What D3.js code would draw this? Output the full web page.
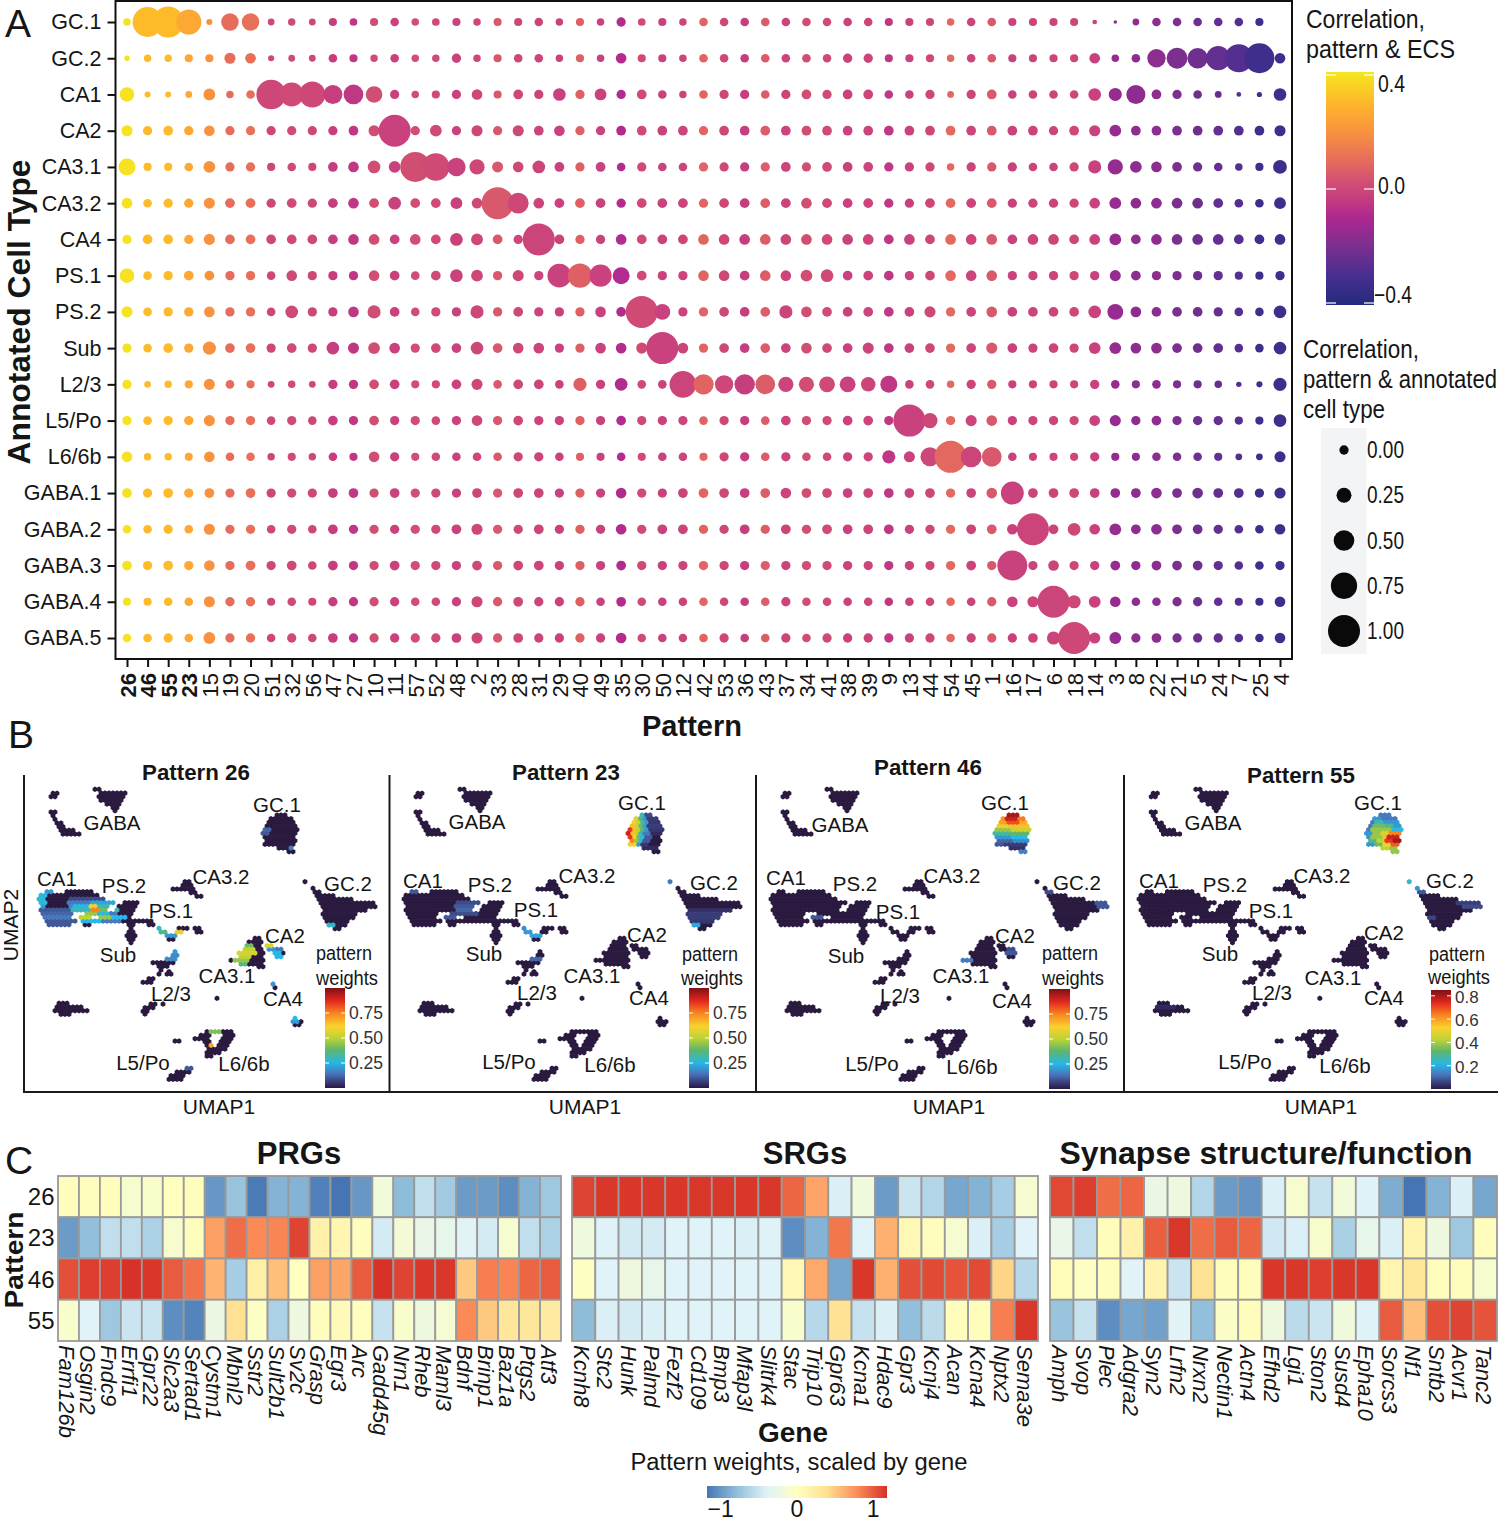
<!DOCTYPE html>
<html><head><meta charset="utf-8">
<script src="https://cdnjs.cloudflare.com/ajax/libs/d3/7.8.5/d3.min.js"></script>
<style>body{margin:0;background:#fff}svg{display:block}text{font-family:"Liberation Sans",Arial,sans-serif;fill:#151515}</style>
</head><body><svg id="c" width="1500" height="1521"></svg>
<script>
// ---------- Panel A data ----------
const cellTypes=["GC.1","GC.2","CA1","CA2","CA3.1","CA3.2","CA4","PS.1","PS.2","Sub","L2/3","L5/Po","L6/6b","GABA.1","GABA.2","GABA.3","GABA.4","GABA.5"];
const patterns=[26,46,55,23,15,19,20,51,32,56,47,27,10,11,57,52,48,2,33,28,31,29,40,49,35,30,50,12,42,53,36,43,37,34,41,38,39,9,13,44,54,45,1,16,17,6,18,14,3,8,22,21,5,24,7,25,4];
const boldPatterns=[26,46,55,23];
const ecsCorr=[.40,.31,.31,.26,.20,.10,.11,.0,.01,.0,-.03,-.05,.02,-.02,.02,.01,-.02,.0,.05,.0,-.01,-.02,.07,-.02,-.09,.01,-.02,-.01,.08,.0,-.03,.06,-.01,.02,.01,-.02,-.01,-.05,-.02,.0,.09,-.01,.05,-.02,-.01,-.01,.0,-.02,-.15,-.17,-.17,-.2,-.23,-.25,-.28,-.33,-.33];
const corrGC1=[-8,91,96,70,-14,36,36,-11,-8,-11,-5,-7,-5,-3,-8,-7,-5,-8,-5,-5,-3,-8,-5,-8,0,-7,-5,-8,-3,-3,-3,-3,-3,-3,-3,-3,-3,-5,-5,-5,-8,-3,-3,-5,-5,-5,-5,-20,-25,-11,-3,-3,-3,-3,-3,-5,null];
const corrGC2=[-17,-8,-8,-5,-5,8,6,-14,-11,-11,-3,-5,-8,-3,-8,-8,0,-8,-5,-3,-3,-8,-5,-8,6,-5,-5,-8,-3,-3,-3,-3,-3,-3,-3,0,0,-5,-5,-5,-8,-3,-3,-5,-5,-5,-5,6,-8,-3,40,51,49,66,83,91,6];
const corrCA1=[23,-14,-14,-11,11,-8,-3,89,64,74,43,46,32,0,-8,-5,0,6,-5,2,0,15,0,11,0,2,-3,-8,-3,0,0,-3,0,2,0,2,2,-3,-3,0,-11,0,2,-3,-3,-3,-3,15,17,43,2,0,-3,-11,-20,-18,15];
const corrCA2=[8,0,2,0,6,0,0,0,0,0,0,2,8,100,0,11,0,8,0,8,2,6,0,0,2,2,2,2,0,2,2,2,2,2,2,2,2,2,2,2,2,2,2,2,2,0,2,8,11,2,2,2,2,2,2,2,8];
const corrCA31=[34,-5,-5,-3,11,0,0,-5,-3,-5,2,6,15,11,91,80,40,26,8,6,15,2,0,2,-3,0,-3,-3,0,0,0,0,2,0,2,2,2,0,0,0,-8,0,0,0,-3,-3,0,17,26,11,6,2,0,-3,-8,-5,20];
const corrCA32=[6,-3,0,0,8,2,2,0,2,0,2,6,2,15,2,2,11,6,100,51,6,2,2,2,0,2,2,2,0,2,2,2,2,6,2,2,2,0,0,2,2,2,2,0,0,0,0,6,11,6,6,6,6,2,-3,-3,11];
const corrCA4=[0,2,2,0,8,2,2,2,2,2,2,6,6,2,6,2,15,11,2,0,100,2,0,0,6,2,2,2,6,6,6,6,6,6,6,6,6,2,6,2,6,6,6,2,6,6,2,6,11,2,6,6,6,6,2,2,6];
const corrPS1=[23,-3,0,2,2,0,0,-3,6,0,0,0,6,2,-3,2,15,11,0,8,0,64,66,57,34,2,0,0,6,6,2,6,6,11,15,2,2,2,0,2,6,6,6,0,0,0,0,0,8,2,0,0,0,0,-5,-5,0];
const corrPS2=[8,-3,0,0,6,0,0,-3,15,0,0,6,17,2,-3,0,0,17,0,2,0,0,0,6,2,100,29,0,0,2,2,2,17,6,2,2,2,2,2,8,0,2,6,2,2,2,2,15,29,6,2,2,2,0,-3,-3,15];
const corrSub=[0,-3,2,0,17,2,2,0,2,0,15,8,11,6,0,2,2,15,2,6,6,0,0,6,6,8,100,6,0,2,2,2,2,6,2,2,8,2,2,2,0,2,8,2,0,2,0,11,11,6,6,2,2,2,-3,-3,15];
const corrL23=[0,-11,-8,-5,8,-3,-5,-11,-8,-11,0,0,2,2,-5,-5,2,8,-3,2,2,-3,17,0,15,-3,-3,77,49,40,49,46,26,26,29,29,23,34,-3,-3,-8,0,0,-5,-5,-5,-5,0,-3,-5,-3,-5,-5,-8,-17,-14,17];
const corrL5=[0,-3,0,0,8,0,0,-3,0,-3,2,0,2,0,0,-3,0,6,0,2,0,0,0,0,2,0,0,0,-3,0,0,-3,2,0,0,2,2,0,100,26,0,8,6,0,0,0,0,6,8,0,2,0,0,0,-5,-5,15];
const corrL6=[6,-8,-8,-5,6,-3,-3,-8,-5,-8,-3,-5,6,0,-5,-3,-3,-3,-3,0,0,-3,-5,-5,-3,-5,-3,-3,-5,0,0,-3,0,-3,-3,0,0,17,8,43,100,51,46,-3,-5,-5,-5,0,-5,-5,-3,-3,-3,-5,-11,-11,8];
const corrGABA1=[2,0,2,0,2,0,2,0,0,0,2,2,0,2,0,0,0,2,0,2,2,0,0,0,6,0,0,2,2,2,2,2,6,2,2,2,2,2,2,2,0,2,6,60,2,2,2,2,2,2,6,2,6,2,2,0,8];
const corrGABA2=[-3,-3,0,-3,8,0,0,-3,0,-3,2,0,0,0,0,0,2,8,0,0,2,0,0,0,6,0,2,2,0,0,2,0,2,0,2,2,2,2,0,0,0,2,2,6,100,2,15,6,11,2,6,2,2,0,-3,-3,6];
const corrGABA3=[2,0,2,0,6,0,2,0,2,-3,2,0,0,2,0,0,0,2,0,2,2,0,0,0,2,0,0,0,0,0,0,0,0,0,0,0,0,0,0,0,0,2,0,91,0,6,0,0,2,0,2,2,2,0,-3,-3,0];
const corrGABA4=[-5,-5,-3,-3,8,0,0,-5,-3,-5,0,0,0,0,-3,-3,0,8,0,2,0,0,0,-3,2,-3,-3,-3,-3,-3,-3,-3,0,-3,-3,-3,-3,-3,-3,-3,-3,-3,0,6,8,100,17,11,6,-3,-3,0,0,-3,-5,-5,6];
const corrGABA5=[-3,-3,0,-3,11,0,0,-3,0,-3,2,0,0,0,0,0,2,8,0,2,0,0,0,0,6,-3,-3,-3,-3,0,-3,-3,0,-3,0,0,0,0,0,0,-3,0,0,0,2,17,100,8,11,0,2,0,0,0,-3,-3,6];
const corrByType=[corrGC1,corrGC2,corrCA1,corrCA2,corrCA31,corrCA32,corrCA4,corrPS1,corrPS2,corrSub,corrL23,corrL5,corrL6,corrGABA1,corrGABA2,corrGABA3,corrGABA4,corrGABA5];
const sizeLegend=[0,.25,.5,.75,1];
const ecsTicks=[.4,0,-.4];

// ---------- Panel B data: occupied hexbin rows [umap2, umap1 from, umap1 to] ----------
const umapRows=[
[118,213,223],[129,220,300],[140,223,297],[151,230,293],[162,243,287],[173,260,283],[182,267,277],
[130,83,100],[140,77,95],[186,77,87],[197,77,90],[208,85,97],[219,93,107],[230,97,115],[241,100,147],[252,115,163],
[195,750,785],[206,740,795],[217,733,805],[228,725,811],[239,720,813],[250,717,810],[261,717,805],[272,725,813],[283,722,730],[283,740,810],[294,760,805],[305,787,803],
[395,836,844],[415,860,870],[426,867,885],[437,873,925],[448,880,985],[459,885,1043],[470,890,1050],[481,893,1020],[492,897,995],[503,900,985],[514,905,973],[525,910,963],[536,923,945],
[425,60,75],[425,120,135],[425,150,195],[436,50,222],[447,45,235],[458,45,118],[458,130,190],[458,200,265],[458,295,338],[469,48,185],[469,195,250],[469,280,330],[480,50,135],[480,145,195],[480,205,240],[480,270,325],[491,52,135],[491,180,255],[491,260,320],[502,55,130],[502,165,190],[502,225,315],[513,60,150],[513,175,385],[524,68,130],[524,180,190],[524,312,325],[524,370,385],
[535,312,325],[535,398,410],[535,455,490],[535,505,525],[546,312,330],[546,410,425],[546,455,465],[546,512,525],[557,308,330],[557,425,450],[568,308,330],[568,435,450],[578,310,325],
[395,480,495],[406,470,500],[417,445,505],[428,490,518],[439,510,525],
[605,448,458],[616,440,455],[627,425,450],[638,385,445],[649,395,425],[660,400,412],[665,425,440],[672,405,410],[672,425,442],[686,370,392],[697,355,380],[745,575,582],[762,370,395],[762,408,415],[773,358,385],[784,355,372],[792,355,362],
[565,682,700],[576,672,708],[587,665,710],[587,725,745],[598,655,715],[598,735,775],[609,645,715],[609,745,772],[620,640,715],[620,750,765],[631,620,715],[642,650,715],[650,705,715],
[702,742,750],[713,748,757],[805,802,810],[815,803,835],[824,808,828],
[760,98,130],[771,90,145],[771,155,170],[782,92,142],[782,150,188],[793,110,135],
[845,545,615],[856,530,560],[856,595,622],[866,503,550],[866,595,618],[875,535,555],[875,590,615],[886,545,565],[886,580,605],[897,545,600],[908,540,580],[918,540,560],[873,450,468],
[955,480,502],[966,455,490],[977,435,478],[988,430,465]];
// weighted hexbin rows per pattern [umap2, from, to, weight]; all other bins are near zero
const weights26=[[425,60,75,.2],[436,50,62,.25],[447,45,60,.28],[458,45,60,.25],[469,48,60,.2],[480,50,135,.1],[491,52,135,.12],[502,55,130,.15],[513,60,150,.1],[524,68,130,.1],[447,130,235,.08],[458,130,190,.15],[458,200,265,.22],[469,130,150,.18],[469,150,185,.25],[469,195,215,.6],[469,215,250,.3],[480,145,195,.3],[480,205,225,.75],[480,225,240,.4],[480,270,280,.3],[491,180,215,.45],[491,215,255,.25],[491,260,270,.15],[502,165,190,.5],[502,225,260,.45],[502,260,300,.25],[513,175,230,.25],[513,230,285,.15],[535,398,410,.28],[546,410,425,.35],[546,455,465,.58],[557,425,450,.2],[587,665,680,.4],[598,655,690,.5],[609,645,690,.55],[620,640,680,.5],[631,630,670,.45],[642,650,665,.35],[587,725,745,.55],[598,735,750,.2],[598,750,775,.15],[609,745,760,.25],[620,750,765,.25],[702,742,750,.2],[805,802,810,.25],[815,803,815,.2],[605,448,458,.2],[616,440,455,.18],[627,425,450,.18],[845,555,590,.42],[886,550,560,.7],[239,720,732,.12],[250,717,730,.1],[294,795,805,.15],[525,910,922,.28],[955,480,502,.1]];
const weights23=[[195,750,760,.3],[195,760,785,.08],[206,740,750,.55],[206,750,762,.35],[206,762,775,.2],[206,775,795,.06],[217,733,742,.6],[217,742,752,.5],[217,752,765,.35],[217,765,780,.2],[217,780,805,.05],[228,725,735,.65],[228,735,745,.55],[228,745,760,.4],[228,760,775,.22],[228,775,811,.06],[239,720,728,.85],[239,728,740,.65],[239,740,752,.5],[239,752,768,.35],[239,768,780,.2],[239,780,813,.05],[250,717,726,.9],[250,726,738,.65],[250,738,750,.5],[250,750,765,.3],[250,765,780,.15],[250,780,810,.03],[261,717,726,.85],[261,726,736,.62],[261,736,750,.4],[261,750,765,.25],[261,765,780,.1],[272,725,733,.75],[272,733,745,.45],[272,745,758,.28],[272,758,775,.1],[283,722,730,.62],[283,740,755,.2],[283,755,775,.05],[294,760,805,.03],[395,836,844,.15],[458,200,265,.08],[469,195,250,.1],[480,205,240,.12],[491,180,255,.08],[502,165,190,.1],[425,60,75,.1],[535,398,410,.18],[546,410,425,.2],[557,425,450,.22],[627,425,450,.12],[481,893,1020,.04],[492,897,995,.06],[503,900,985,.06],[514,905,973,.05],[525,910,925,.22]];
const weights46=[[195,750,785,.95],[206,740,752,.72],[206,752,785,.9],[206,785,795,.76],[217,733,750,.7],[217,750,790,.82],[217,790,805,.68],[228,725,755,.58],[228,755,811,.65],[239,720,760,.45],[239,760,813,.52],[250,717,760,.32],[250,760,810,.38],[261,717,760,.2],[261,760,805,.25],[272,725,770,.12],[272,770,813,.18],[283,722,730,.1],[283,740,810,.06],[294,760,805,.04],[305,787,803,.16],[502,165,190,.1],[426,867,885,.08],[459,1020,1043,.1],[470,1020,1050,.1],[598,750,775,.08],[609,745,772,.1],[631,620,640,.15]];
const weights55=[[195,750,785,.15],[206,740,760,.2],[206,760,795,.15],[217,733,745,.15],[217,745,770,.3],[217,770,805,.2],[228,725,740,.15],[228,740,770,.4],[228,770,795,.35],[228,795,811,.2],[239,720,735,.15],[239,735,765,.45],[239,765,790,.45],[239,790,813,.25],[250,717,732,.2],[250,732,760,.45],[250,760,785,.55],[250,785,810,.75],[261,717,730,.2],[261,730,760,.45],[261,760,780,.65],[261,780,805,.9],[272,725,745,.35],[272,745,770,.5],[272,770,790,.85],[272,790,813,.95],[283,722,730,.2],[283,740,765,.4],[283,765,790,.6],[283,790,810,.8],[294,760,785,.5],[294,785,805,.45],[305,787,803,.45],[395,836,844,.28],[415,860,870,.2],[426,867,885,.1],[459,985,1043,.06],[470,1000,1050,.08],[503,900,920,.07],[771,90,145,.03]];
const weightRows={26:weights26,23:weights23,46:weights46,55:weights55};
const panelPatterns=[26,23,46,55];
const weightTicks=[.25,.5,.75];
const weightTicks55=[.2,.4,.6,.8];
const umapLabelNames=["GABA","GC.1","CA1","PS.2","CA3.2","GC.2","PS.1","CA2","Sub","CA3.1","L2/3","CA4","L5/Po","L6/6b"];

// ---------- Panel C data ----------
const prgGenes=["Fam126b","Osgin2","Fndc9","Errfi1","Gpr22","Slc2a3","Sertad1","Cystm1","Mbnl2","Sstr2","Sult2b1","Sv2c","Grasp","Egr3","Arc","Gadd45g","Nrn1","Rheb","Maml3","Bdnf","Brinp1","Baz1a","Ptgs2","Atf3"];
const prg26=[.03,.02,.02,-.1,-.07,0,.02,-1,-.75,-1.15,-.85,-.85,-1.12,-1.18,-1,-.18,-.8,-.55,-.7,-.98,-.98,-1.05,-.85,-.72];
const prg23=[-.98,-.78,-.55,-.55,-.65,-.1,.02,.7,.92,.8,.82,1.1,.18,.12,.02,-.45,-.15,-.28,-.3,-.38,-.45,-.12,-.55,-.65];
const prg46=[1.05,1.12,1.12,1.17,1.15,1,.9,.6,-.68,.2,.55,0,.7,.68,1,1.17,1.1,1.15,1.15,.5,.85,.82,.95,1];
const prg55=[-.08,-.38,-.72,-.5,-.5,-1.05,-1.1,-.25,.38,-.03,-.65,-.22,.02,.06,.01,-.52,-.08,-.22,-.13,.8,.5,.3,.3,.25];
const srgGenes=["Kcnh8","Stc2","Hunk","Palmd","Fezf2","Cd109","Bmp3","Mfap3l","Slitrk4","Stac","Trip10","Gpr63","Kcna1","Hdac9","Gpr3","Kcnj4","Acan","Kcna4","Nptx2","Sema3e"];
const srg26=[1.1,1.15,1.15,1.15,1.15,1.15,1.15,1.15,1.15,.95,.68,-.42,-.2,-.98,-.5,-.62,-.92,-.85,-.68,-.12];
const srg23=[-.2,-.4,-.46,-.45,-.39,-.39,-.39,-.42,-.4,-1.05,-.85,.88,-.39,.62,.08,.02,-.12,-.42,-.68,-.39];
const srg46=[-.02,-.39,-.22,-.3,-.39,-.39,-.39,-.39,-.39,.08,.65,-.92,1.15,.62,1.05,1.07,1.03,1.07,.45,-.6];
const srg55=[-.8,-.42,-.45,-.42,-.39,-.39,-.39,-.39,-.39,-.08,-.6,.35,-.52,-.42,-.78,-.58,.03,.03,.85,1.15];
const synGenes=["Amph","Svop","Plec","Adgra2","Syn2","Lrfn2","Nrxn2","Nectin1","Actn4","Efhd2","Lgi1","Ston2","Susd4","Epha10","Sorcs3","Nf1","Sntb2","Acvr1","Tanc2"];
const syn26=[1.08,1.12,.92,.95,-.26,-.22,-.62,-.98,-1.02,-.42,-.1,-.52,-.18,-.4,-.88,-1.18,-.85,-.42,-.92];
const syn23=[-.28,-.55,.03,.18,.98,1.15,.92,1,.95,-.48,-.42,-.08,-.66,-.3,-.42,.14,-.22,-.72,.02];
const syn46=[.05,-.03,.02,-.38,.14,-.5,.36,.03,.03,1.15,1.15,1.12,1.15,1.15,.13,.3,.03,.03,-.1];
const syn55=[-.75,-.52,-1.05,-.92,-.95,-.38,-.78,-.05,.03,-.22,-.58,-.5,-.2,-.4,1,.55,1.05,1.1,1.03];
const heatRows=["26","23","46","55"];
const heatTicks=[-1,0,1];

// ---------- drawing ----------
corrByType.forEach((r,i)=>{if(r.length!==57)throw new Error("row "+i+" has "+r.length)});
const svg=d3.select("#c"), defs=svg.append("defs");
function txt(g,s,x,y,size,o={}){
  const t=g.append("text").attr("x",x).attr("y",y).attr("font-size",size).text(s)
   .attr("text-anchor",o.anchor||"start").attr("font-weight",o.bold?"bold":"normal").attr("font-style",o.italic?"italic":"normal");
  if(o.mid)t.attr("dy",".35em");
  if(o.len)t.attr("textLength",o.len).attr("lengthAdjust","spacingAndGlyphs");
  if(o.rot!==undefined)t.attr("transform",`rotate(${o.rot} ${x} ${y})`);
  return t;
}
function vGrad(id,scale,top,bottom){
  const g=defs.append("linearGradient").attr("id",id).attr("x1",0).attr("x2",0).attr("y1",0).attr("y2",1);
  d3.range(0,1.001,.02).forEach(t=>g.append("stop").attr("offset",t).attr("stop-color",scale(top+(bottom-top)*t)));
}
// Panel letters
txt(svg,"A",5,37,39); txt(svg,"B",8,748,39); txt(svg,"C",5,1174,39);

// === Panel A ===
const A=svg.append("g");
const xA=d3.scalePoint().domain(patterns).range([127,1280]);
const yA=d3.scalePoint().domain(cellTypes).range([22,638]);
const plasmaA=d3.scaleLinear()
 .domain([-.41,-.3,-.2,-.1,-.03,.03,.1,.2,.3,.41])
 .range(["#222a7c","#4a2f90","#7d2f8f","#ae2890","#c73e7f","#d35171","#e66c5c","#f8923f","#feb72b","#f5e61f"]);
const rA=d3.scaleLinear().domain([-25,100]).range([1.8,16]);
cellTypes.forEach((ct,i)=>{
  A.append("g").selectAll("circle").data(patterns.map((p,j)=>({p,c:ecsCorr[j],v:corrByType[i][j]})).filter(d=>d.v!==null))
   .join("circle").attr("cx",d=>xA(d.p)).attr("cy",yA(ct)).attr("r",d=>rA(d.v)).attr("fill",d=>plasmaA(d.c));
});
A.append("rect").attr("x",115.5).attr("y",1).attr("width",1176.5).attr("height",658).attr("fill","none").attr("stroke","#111").attr("stroke-width",2);
const axL=A.append("g").attr("transform","translate(115.5,0)").call(d3.axisLeft(yA).tickSize(8).tickPadding(6));
axL.select(".domain").remove();
axL.selectAll("line").attr("stroke","#111").attr("stroke-width",2);
axL.selectAll("text").attr("font-size",21.5).attr("font-family","Liberation Sans").attr("fill","#151515");
const axB=A.append("g").attr("transform","translate(0,659)").call(d3.axisBottom(xA).tickSize(8));
axB.select(".domain").remove();
axB.selectAll("line").attr("stroke","#111").attr("stroke-width",2);
axB.selectAll("text").attr("font-size",22).attr("font-family","Liberation Sans").attr("fill","#151515")
  .attr("font-weight",d=>boldPatterns.includes(d)?"bold":"normal")
  .attr("text-anchor","end").attr("dy",0).attr("transform","translate(0,14) rotate(-90)").attr("x",0).attr("y",8);
txt(A,"Annotated Cell Type",30,312,31,{bold:true,anchor:"middle",rot:-90,len:305});
txt(A,"Pattern",692,736,29,{bold:true,anchor:"middle"});
// ECS colour bar
txt(A,"Correlation,",1306,28,25,{len:119}); txt(A,"pattern & ECS",1306,58,25,{len:149});
const ecsY=d3.scaleLinear().domain([.4,-.4]).range([75,303]);
vGrad("ecsG",plasmaA,.41,-.408);
A.append("rect").attr("x",1326).attr("y",72).attr("width",48).attr("height",233).attr("fill","url(#ecsG)");
ecsTicks.forEach(t=>{[[1326,1336],[1364,1374]].forEach(s=>A.append("line").attr("x1",s[0]).attr("x2",s[1]).attr("y1",ecsY(t)).attr("y2",ecsY(t)).attr("stroke","#fff").attr("stroke-width",1.2));});
txt(A,"0.4",1378,92,23.5,{len:27}); txt(A,"0.0",1378,194,23.5,{len:27}); txt(A,"\u22120.4",1374,303,23.5,{len:38});
// Size legend
txt(A,"Correlation,",1303,358,25,{len:116}); txt(A,"pattern & annotated",1303,388,25,{len:194}); txt(A,"cell type",1303,418,25,{len:82});
A.append("rect").attr("x",1321).attr("y",428).attr("width",45.5).attr("height",226).attr("fill","#f3f4f6");
const ySize=d3.scalePoint().domain(sizeLegend).range([450,631]);
A.append("g").selectAll("circle").data(sizeLegend).join("circle").attr("cx",1344).attr("cy",d=>ySize(d)).attr("r",d=>rA(d*100)).attr("fill","#0a0a0a");
sizeLegend.forEach(d=>txt(A,d.toFixed(2),1367,ySize(d),23,{mid:true,len:37}));

// === Panel B ===
const B=svg.append("g");
const turbo=d3.scaleLinear().domain([0,.02,.14,.25,.38,.5,.62,.75,.87,1])
 .range(["#2b1a40","#2f2358","#4a72b8","#25b8e8","#5fb56c","#bcd434","#fbd02d","#f7841f","#e5281f","#7d1015"]);
const umapXRanges=[[25,405],[390,770],[757,1137],[1124.8,1510.8]];
const yU=d3.scaleLinear().domain([0,1140]).range([750,1130]);
const hexR=2.75;
const hexPath=d3.range(6).map(k=>{const a=Math.PI/3*k+Math.PI/6;return [hexR*Math.cos(a),hexR*Math.sin(a)]});
const hexD=(w)=>"M"+hexPath.map(p=>[p[0]*w,p[1]].join(",")).join("L")+"Z";
function binsOf(pattern){
  const over=weightRows[pattern], out=[];
  umapRows.forEach(([y,a,b])=>{
    const off=Math.round(y/11)%2?6:0;
    for(let k=Math.ceil((a-3-off)/12);k*12+off<=b+3;k++){
      const x=k*12+off;
      let w=0;
      over.forEach(o=>{if(o[0]===y&&x>=o[1]-3&&x<=o[2]+3)w=o[3]});
      out.push({x,y,w});
    }
  });
  return out.sort((p,q)=>p.w-q.w);
}
const panelTitles=[[196,780],[566,780],[928,775],[1301,783]];
const umap1X=[219,585,949,1321];
const labelAt=[
 [[112,823],[277,805],[57,879],[124,886],[221,877],[348,884],[171,911],[285,936],[118,955],[227,976],[171,994],[283,999],[143,1063],[244,1064]],
 [[477,822],[642,803],[423,881],[490,885],[587,876],[714,883],[536,910],[647,935],[484,954],[592,976],[537,993],[649,998],[509,1062],[610,1065]],
 [[840,825],[1005,803],[786,878],[855,884],[952,876],[1077,883],[898,912],[1015,936],[846,956],[961,976],[900,996],[1012,1001],[872,1064],[972,1067]],
 [[1213,823],[1378,803],[1159,881],[1225,885],[1322,876],[1450,881],[1271,911],[1384,933],[1220,954],[1333,978],[1272,993],[1384,998],[1245,1062],[1345,1066]]];
const legendHead=[[344,953,347,978],[710,954,712,978],[1070,953,1073,978],[1457,954,1459,977]];
const barX=[[325,345],[689,709],[1049,1070],[1431,1451]];
const barY=[[988,1088],[988,1088],[989,1089],[990,1089]];
panelPatterns.forEach((p,i)=>{
  const g=B.append("g");
  const xU=d3.scaleLinear().domain([0,1140]).range(umapXRanges[i]);
  const wx=(umapXRanges[i][1]-umapXRanges[i][0])/380;
  g.selectAll("path").data(binsOf(p)).join("path")
   .attr("transform",d=>`translate(${xU(d.x)},${yU(d.y)})`).attr("d",hexD(wx)).attr("fill",d=>turbo(d.w));
  txt(g,"Pattern "+p,panelTitles[i][0],panelTitles[i][1],22.3,{bold:true,anchor:"middle"});
  txt(g,"UMAP1",umap1X[i],1114,21,{anchor:"middle"});
  umapLabelNames.forEach((n,j)=>txt(g,n,labelAt[i][j][0],labelAt[i][j][1],20.5,{anchor:"middle",mid:true}));
  const lh=legendHead[i];
  txt(g,"pattern",lh[0],lh[1],20,{anchor:"middle",mid:true,len:56});
  txt(g,"weights",lh[2],lh[3],20,{anchor:"middle",mid:true,len:62});
  // colour bar
  const top=i===3?.85:1;
  const yBar=d3.scaleLinear().domain([0,top]).range([barY[i][1],barY[i][0]]);
  const barScale=v=>turbo(v/top);
  vGrad("wG"+i,barScale,top,0);
  g.append("rect").attr("x",barX[i][0]).attr("y",barY[i][0]).attr("width",barX[i][1]-barX[i][0]).attr("height",barY[i][1]-barY[i][0]).attr("fill",`url(#wG${i})`);
  (i===3?weightTicks55:weightTicks).forEach(t=>{
    const y=yBar(t);
    [[barX[i][0],barX[i][0]+4],[barX[i][1]-4,barX[i][1]]].forEach(s=>g.append("line").attr("x1",s[0]).attr("x2",s[1]).attr("y1",y).attr("y2",y).attr("stroke","#fff").attr("stroke-width",1));
    txt(g,i===3?t.toFixed(1):t.toFixed(2),barX[i][1]+4,y+(i===3?1:0),i===3?17:17.5,{mid:true}).style("fill","#333");
  });
});
[[24,775,24,1093],[389.5,775,389.5,1093],[756,775,756,1093],[1124,775,1124,1093],[23,1092,1498,1092]].forEach(l=>
  B.append("line").attr("x1",l[0]).attr("y1",l[1]).attr("x2",l[2]).attr("y2",l[3]).attr("stroke","#1a1a1a").attr("stroke-width",2));
txt(B,"UMAP2",18,925,21,{anchor:"middle",rot:-90});

// === Panel C ===
const C=svg.append("g");
const heatColor=d3.scaleLinear().domain([-1.18,-.787,-.393,0,.393,.787,1.18])
 .range(["#4575B4","#91BFDB","#E0F3F8","#FFFFBF","#FEE090","#FC8D59","#D73027"]).clamp(true);
const heatSets=[
 {title:"PRGs",tx:299,genes:prgGenes,rows:[prg26,prg23,prg46,prg55],x:[58,561]},
 {title:"SRGs",tx:805,genes:srgGenes,rows:[srg26,srg23,srg46,srg55],x:[572,1038]},
 {title:"Synapse structure/function",tx:1266,genes:synGenes,rows:[syn26,syn23,syn46,syn55],x:[1050,1497]}];
const yH=d3.scaleBand().domain(heatRows).range([1176,1341]);
heatSets.forEach(s=>{
  const xH=d3.scaleBand().domain(s.genes).range(s.x);
  const g=C.append("g");
  s.rows.forEach((r,ri)=>g.append("g").selectAll("rect").data(r.map((v,k)=>({v,gene:s.genes[k]}))).join("rect")
    .attr("x",d=>xH(d.gene)).attr("y",yH(heatRows[ri])).attr("width",xH.bandwidth()).attr("height",yH.bandwidth())
    .attr("fill",d=>heatColor(d.v)).attr("stroke","#9a9a9a").attr("stroke-width",1.8));
  s.genes.forEach(n=>txt(g,n,xH(n)+xH.bandwidth()/2-9.5,1345,22,{italic:true,rot:90}));
  txt(g,s.title,s.tx,1164,31,{bold:true,anchor:"middle",len:s.title.length>10?413:null});
});
heatRows.forEach(r=>txt(C,r,54.5,yH(r)+yH.bandwidth()/2,24,{anchor:"end",mid:true}));
txt(C,"Pattern",23,1260,26,{bold:true,anchor:"middle",rot:-90,len:97});
txt(C,"Gene",793,1442,28,{bold:true,anchor:"middle"});
txt(C,"Pattern weights, scaled by gene",799,1470,23,{anchor:"middle",len:337});
const xLeg=d3.scaleLinear().domain([-1.18,1.18]).range([707,887]);
const lg=defs.append("linearGradient").attr("id","hG");
d3.range(0,1.001,.02).forEach(t=>lg.append("stop").attr("offset",t).attr("stop-color",heatColor(-1.18+2.36*t)));
C.append("rect").attr("x",707).attr("y",1486).attr("width",180).attr("height",12).attr("fill","url(#hG)");
heatTicks.forEach(t=>txt(C,t===-1?"\u22121":String(t),xLeg(t),1517,23,{anchor:"middle"}));
</script></body></html>
